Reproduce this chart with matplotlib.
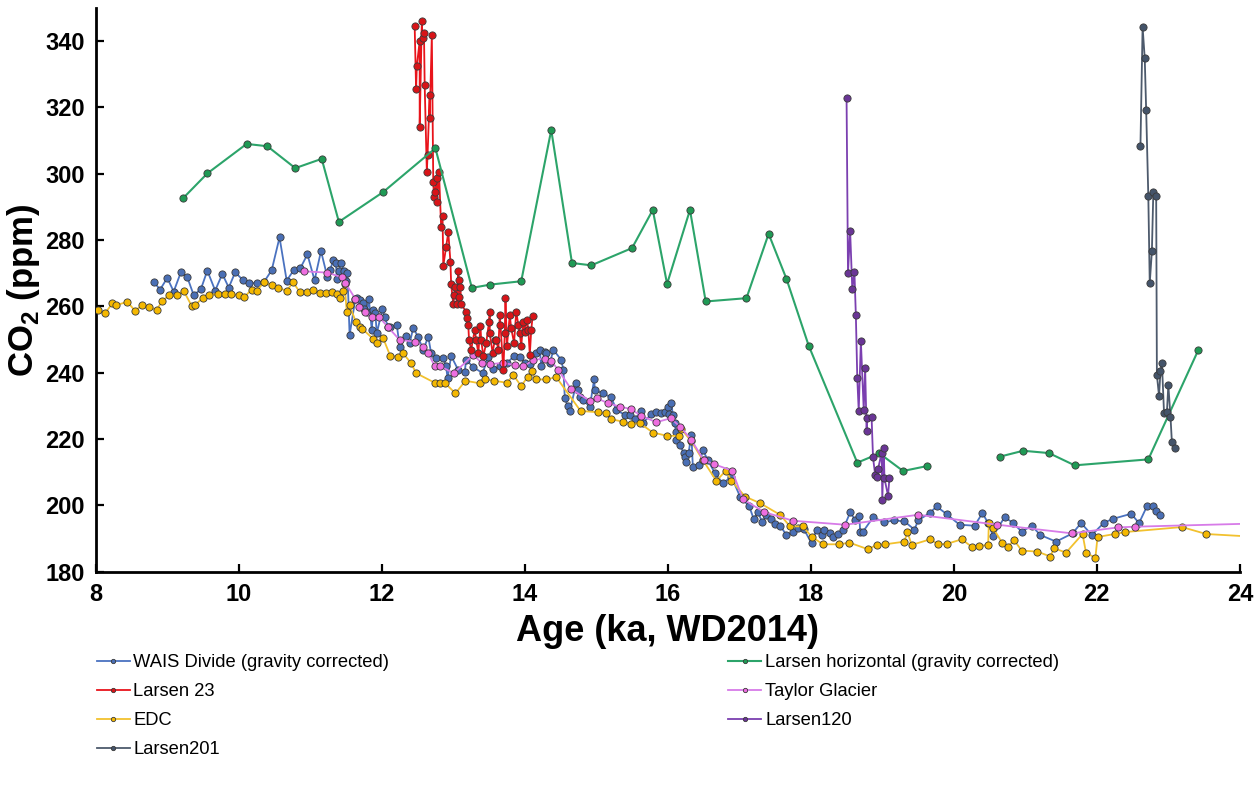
import numpy as np
import matplotlib
matplotlib.use("Agg")
import matplotlib.pyplot as plt

plt.rcParams['font.family'] = ['Liberation Sans', 'DejaVu Sans']
plt.rcParams['mathtext.fontset'] = 'custom'
plt.rcParams['mathtext.rm'] = 'Liberation Sans'
plt.rcParams['mathtext.bf'] = 'Liberation Sans:bold'

# WAIS Divide (gravity corrected)
wais_age = [8.81, 8.90, 9.00, 9.09, 9.19, 9.28, 9.37, 9.47, 9.56, 9.67, 9.77, 9.86, 9.95,
            10.06, 10.15, 10.26, 10.35, 10.46, 10.57, 10.67, 10.77, 10.86, 10.96, 11.06, 11.15,
            11.24, 11.28, 11.32, 11.36, 11.37, 11.40, 11.43, 11.47, 11.50, 11.52, 11.55, 11.63,
            11.65, 11.70, 11.74, 11.75, 11.79, 11.82, 11.86, 11.88, 11.91, 11.93, 12.01, 12.04,
            12.09, 12.11, 12.21, 12.25, 12.34, 12.39, 12.44, 12.51, 12.58, 12.65, 12.69, 12.76,
            12.86, 12.90, 12.92, 12.97, 13.07, 13.16, 13.18, 13.28, 13.41, 13.49, 13.55, 13.65,
            13.75, 13.85, 13.93, 14.00, 14.07, 14.15, 14.21, 14.23, 14.28, 14.30, 14.35, 14.40,
            14.51, 14.54, 14.56, 14.60, 14.63, 14.72, 14.74, 14.77, 14.81, 14.91, 14.97, 14.98,
            15.09, 15.21, 15.28, 15.40, 15.47, 15.54, 15.63, 15.65, 15.77, 15.84, 15.90, 15.96,
            16.00, 16.02, 16.05, 16.07, 16.10, 16.11, 16.12, 16.17, 16.22, 16.24, 16.26, 16.29,
            16.33, 16.35, 16.44, 16.49, 16.56, 16.66, 16.77, 16.89, 17.01, 17.14, 17.20, 17.26,
            17.32, 17.38, 17.45, 17.50, 17.57, 17.66, 17.75, 17.82, 17.90, 18.01, 18.08, 18.15,
            18.19, 18.27, 18.31, 18.38, 18.45, 18.55, 18.62, 18.68, 18.69, 18.73, 18.87, 19.03,
            19.17, 19.31, 19.45, 19.50, 19.66, 19.76, 19.90, 20.08, 20.29, 20.40, 20.48, 20.55,
            20.71, 20.83, 20.95, 21.09, 21.21, 21.43, 21.66, 21.78, 21.93, 22.10, 22.23, 22.48,
            22.59, 22.70, 22.78, 22.83, 22.89]
wais_co2 = [267.4, 265.1, 268.6, 264.5, 270.3, 268.8, 263.4, 265.2, 270.8, 264.8, 269.8, 265.7, 270.3,
            267.9, 267.0, 267.1, 267.3, 270.9, 280.8, 267.8, 271.0, 271.5, 275.7, 267.9, 276.7,
            268.8, 271.0, 274.0, 273.0, 268.2, 270.8, 273.2, 270.8, 267.7, 270.0, 251.4, 262.2,
            262.4, 261.9, 260.9, 259.1, 258.4, 262.1, 252.9, 258.9, 257.9, 251.9, 259.3, 256.7,
            253.9, 253.9, 254.4, 247.9, 251.1, 248.9, 253.6, 250.7, 246.9, 250.9, 245.9, 244.4,
            244.4, 241.9, 238.3, 245.1, 240.8, 240.3, 243.9, 241.7, 239.9, 244.8, 241.0, 241.9,
            243.0, 245.0, 244.8, 243.0, 242.8, 246.0, 246.9, 241.9, 246.4, 245.9, 242.9, 246.9,
            243.9, 240.8, 232.3, 230.0, 228.6, 236.8, 234.8, 232.8, 231.8, 229.8, 238.0, 234.8,
            233.8, 232.6, 228.8, 227.3, 227.3, 226.0, 228.6, 224.8, 227.6, 228.3, 228.0, 228.3,
            229.8, 227.6, 231.0, 227.3, 224.8, 222.3, 219.8, 218.3, 215.9, 214.7, 213.2, 215.8,
            221.3, 211.7, 212.2, 216.7, 213.7, 209.7, 206.7, 208.7, 202.7, 199.7, 196.0, 198.0,
            195.0, 197.0, 196.0, 194.5, 193.9, 191.1, 192.1, 193.2, 193.0, 188.6, 192.7, 191.1,
            192.7, 191.7, 190.6, 191.4, 192.7, 197.9, 195.7, 196.7, 192.1, 192.1, 196.4, 195.0,
            195.5, 195.2, 192.7, 195.5, 197.7, 199.7, 197.4, 194.2, 193.9, 197.7, 194.7, 190.8,
            196.5, 194.7, 192.1, 193.9, 191.1, 189.1, 191.6, 194.7, 191.1, 194.8, 196.0, 197.5,
            194.7, 199.7, 199.7, 198.4, 197.2]

# Larsen horizontal (gravity corrected); NaN marks the gap in the record
horiz_age = [9.22, 9.56, 10.11, 10.40, 10.79, 11.16, 11.40, 12.02, 12.75, 13.26, 13.52, 13.95,
             14.37, 14.66, 14.93, 15.50, 15.79, 15.99, 16.31, 16.53, 17.10, 17.41, 17.66, 17.97,
             18.65, 18.96, 19.29, 19.63, 20.1, 20.64, 20.97, 21.33, 21.69, 22.72, 23.42]
horiz_co2 = [292.6, 300.1, 309.0, 308.3, 301.7, 304.5, 285.5, 294.5, 307.7, 265.6, 266.6, 267.6,
             313.2, 273.1, 272.4, 277.6, 289.1, 266.8, 289.1, 261.5, 262.5, 281.9, 268.3, 248.2,
             212.9, 215.7, 210.4, 211.9, np.nan, 214.7, 216.5, 215.8, 212.1, 213.9, 246.9]

# Larsen 23
l23_age = [12.46, 12.48, 12.49, 12.53, 12.53, 12.56, 12.57, 12.59, 12.60, 12.63, 12.64, 12.67,
           12.67, 12.70, 12.72, 12.73, 12.74, 12.77, 12.77, 12.80, 12.83, 12.85, 12.86, 12.90,
           12.93, 12.96, 12.97, 13.00, 13.01, 13.03, 13.05, 13.07, 13.08, 13.08, 13.10, 13.11,
           13.18, 13.19, 13.21, 13.22, 13.25, 13.30, 13.32, 13.35, 13.38, 13.39, 13.42, 13.46,
           13.50, 13.51, 13.51, 13.55, 13.58, 13.60, 13.63, 13.65, 13.66, 13.70, 13.72, 13.73,
           13.75, 13.79, 13.81, 13.85, 13.88, 13.91, 13.93, 13.95, 13.98, 14.00, 14.03, 14.05,
           14.07, 14.09, 14.11]
l23_co2 = [344.5, 325.5, 332.5, 340.0, 314.2, 346.1, 340.8, 342.5, 326.7, 300.6, 305.6, 323.7,
           316.7, 341.7, 297.6, 293.1, 294.6, 298.6, 291.5, 300.6, 284.0, 287.2, 272.2, 278.0,
           282.4, 273.5, 266.8, 260.7, 263.4, 265.8, 260.7, 270.8, 268.0, 262.9, 265.8, 260.7,
           258.4, 256.4, 254.4, 249.9, 247.0, 252.9, 249.9, 246.0, 254.1, 249.9, 245.0, 248.9,
           255.4, 258.4, 251.9, 246.0, 249.9, 250.0, 246.9, 257.4, 254.4, 240.8, 251.9, 262.7,
           248.0, 257.4, 253.4, 249.0, 258.4, 254.4, 251.9, 248.0, 255.4, 252.4, 256.0, 252.9,
           245.4, 252.9, 257.1]

# Taylor Glacier
taylor_age = [10.91, 11.24, 11.44, 11.49, 11.63, 11.68, 11.77, 11.86, 11.96, 12.09, 12.25, 12.46,
              12.58, 12.65, 12.74, 12.81, 13.01, 13.28, 13.40, 13.52, 13.70, 13.86, 13.98, 14.12,
              14.28, 14.37, 14.47, 14.65, 14.91, 15.01, 15.17, 15.33, 15.48, 15.63, 15.84, 16.04,
              16.17, 16.33, 16.50, 16.64, 16.90, 17.05, 17.35, 17.75, 18.48, 19.50, 20.61, 21.65,
              22.30, 22.53, 24.8]
taylor_co2 = [270.6, 270.2, 268.8, 267.1, 262.3, 259.8, 258.4, 256.7, 256.9, 253.7, 249.9, 249.4,
              247.9, 245.9, 242.0, 242.0, 239.9, 245.4, 242.9, 242.6, 243.0, 242.3, 241.9, 243.9,
              244.3, 243.6, 240.8, 235.0, 231.6, 232.3, 230.8, 229.8, 229.1, 227.0, 225.1, 226.3,
              223.8, 219.8, 213.7, 212.5, 210.5, 201.9, 198.0, 195.4, 194.2, 197.2, 194.2, 191.6,
              193.4, 193.6, 194.9]

# EDC
edc_age = [7.9, 8.03, 8.13, 8.23, 8.29, 8.44, 8.55, 8.65, 8.75, 8.85, 8.93, 9.03, 9.14, 9.23,
           9.34, 9.39, 9.50, 9.58, 9.71, 9.81, 9.89, 10.00, 10.08, 10.18, 10.25, 10.35, 10.46,
           10.55, 10.67, 10.76, 10.85, 10.95, 11.04, 11.13, 11.22, 11.30, 11.37, 11.42, 11.46,
           11.48, 11.51, 11.55, 11.64, 11.69, 11.73, 11.88, 11.93, 12.02, 12.12, 12.23, 12.29,
           12.41, 12.48, 12.74, 12.81, 12.88, 13.03, 13.17, 13.38, 13.45, 13.57, 13.75, 13.84,
           13.95, 14.04, 14.10, 14.15, 14.30, 14.44, 14.78, 15.03, 15.14, 15.20, 15.37, 15.49,
           15.61, 15.79, 15.99, 16.16, 16.19, 16.33, 16.49, 16.68, 16.81, 16.89, 17.08, 17.29,
           17.57, 17.71, 17.89, 18.01, 18.17, 18.40, 18.54, 18.80, 18.92, 19.04, 19.31, 19.35,
           19.41, 19.67, 19.78, 19.90, 20.11, 20.26, 20.35, 20.48, 20.49, 20.55, 20.68, 20.76,
           20.84, 20.95, 21.17, 21.35, 21.40, 21.57, 21.80, 21.85, 21.98, 22.01, 22.25, 22.40,
           23.19, 23.53, 24.5]
edc_co2 = [259.5, 258.9, 257.9, 260.9, 260.4, 261.4, 258.7, 260.4, 259.9, 258.9, 261.7, 263.4,
           263.4, 264.7, 260.2, 260.4, 262.7, 263.4, 263.9, 263.9, 263.7, 263.4, 262.9, 265.1,
           264.6, 267.3, 266.4, 265.6, 264.7, 267.3, 264.4, 264.4, 264.9, 264.2, 264.1, 264.4,
           263.9, 262.7, 264.7, 266.7, 258.4, 260.3, 255.2, 253.7, 253.2, 250.2, 249.1, 250.4,
           245.0, 244.9, 246.1, 242.9, 239.9, 237.0, 237.0, 237.0, 233.8, 237.6, 236.8, 238.0,
           237.6, 237.0, 239.3, 236.0, 238.8, 240.4, 238.0, 238.0, 238.7, 228.5, 228.1, 227.8,
           226.0, 225.3, 224.6, 224.8, 222.0, 221.0, 221.0, 223.0, 219.3, 213.7, 207.4, 210.5,
           207.5, 202.7, 200.7, 197.2, 193.7, 193.7, 190.6, 188.3, 188.3, 188.8, 186.8, 188.1,
           188.3, 189.1, 192.1, 188.1, 189.8, 188.3, 188.4, 189.8, 187.4, 187.8, 188.1, 194.7,
           193.2, 188.6, 187.6, 189.6, 186.4, 186.1, 184.6, 187.1, 185.8, 191.4, 185.6, 184.3,
           190.5, 191.4, 192.0, 193.5, 191.4, 190.2]

# Larsen120
l120_age = [18.50, 18.52, 18.55, 18.58, 18.61, 18.63, 18.65, 18.67, 18.70, 18.74, 18.76, 18.78,
            18.79, 18.85, 18.87, 18.90, 18.92, 18.94, 18.99, 19.00, 19.02, 19.03, 19.08, 19.10]
l120_co2 = [322.7, 270.2, 282.8, 265.2, 270.3, 257.3, 238.3, 228.5, 249.6, 228.8, 241.4, 222.5,
            226.5, 226.6, 214.5, 209.2, 208.7, 211.0, 215.8, 201.7, 217.3, 208.2, 202.9, 208.4]

# Larsen201
l201_age = [22.61, 22.64, 22.67, 22.69, 22.72, 22.74, 22.77, 22.79, 22.83, 22.84, 22.87, 22.89,
            22.91, 22.94, 22.98, 23.00, 23.03, 23.05, 23.09]
l201_co2 = [308.4, 344.3, 334.8, 319.2, 293.3, 267.0, 276.7, 294.4, 293.3, 239.3, 233.0, 240.5,
            243.1, 227.8, 228.1, 236.3, 226.8, 219.0, 217.3]

fig = plt.figure(figsize=(12.6, 7.92), dpi=100)
ax = fig.add_axes([0.076, 0.278, 0.908, 0.712])

ms = 5.2
edge = '#3a3a3a'
wais, = ax.plot(wais_age, wais_co2, '-o', color='#4a72c0', mfc='#4a6fb5', mec=edge,
                mew=0.6, ms=ms, lw=1.3, zorder=2)
edc, = ax.plot(edc_age, edc_co2, '-o', color='#f2c12e', mfc='#f5b800', mec=edge,
               mew=0.6, ms=ms, lw=1.3, zorder=3)
taylor, = ax.plot(taylor_age, taylor_co2, '-o', color='#d77be8', mfc='#ee6ee0', mec=edge,
                  mew=0.6, ms=ms, lw=1.3, zorder=4)
l23, = ax.plot(l23_age, l23_co2, '-o', color='#e8141b', mfc='#d81418', mec=edge,
               mew=0.6, ms=ms, lw=1.3, zorder=5)
horiz, = ax.plot(horiz_age, horiz_co2, '-o', color='#2ca46a', mfc='#1f9a55', mec=edge,
                 mew=0.6, ms=ms, lw=1.5, zorder=6)
l120, = ax.plot(l120_age, l120_co2, '-o', color='#7b3fb0', mfc='#6a3596', mec=edge,
                mew=0.6, ms=ms, lw=1.3, zorder=7)
l201, = ax.plot(l201_age, l201_co2, '-o', color='#4d5a6c', mfc='#44546a', mec=edge,
                mew=0.6, ms=ms, lw=1.3, zorder=8)

ax.set_xlim(8, 24)
ax.set_ylim(180, 350)
ax.set_xticks(np.arange(8, 25, 2))
ax.set_yticks(np.arange(180, 341, 20))
ax.spines['top'].set_visible(False)
ax.spines['right'].set_visible(False)
for s in ['left', 'bottom']:
    ax.spines[s].set_linewidth(2)
ax.tick_params(direction='in', length=6, width=1.6, labelsize=17, pad=8)
for lab in ax.get_xticklabels() + ax.get_yticklabels():
    lab.set_fontweight('bold')

ax.set_xlabel('Age (ka, WD2014)', fontsize=26, fontweight='bold', labelpad=6)
ax.set_ylabel(r'CO$_\mathbf{2}$ (ppm)', fontsize=25, fontweight='bold', labelpad=2)

handles = [wais, l23, edc, l201, horiz, taylor, l120]
labels = ['WAIS Divide (gravity corrected)', 'Larsen 23', 'EDC', 'Larsen201',
          'Larsen horizontal (gravity corrected)', 'Taylor Glacier', 'Larsen120']
fig.legend(handles, labels, ncol=2, loc='upper left', bbox_to_anchor=(0.0635, 0.195),
           frameon=False, fontsize=13.2, markerscale=0.6, handlelength=1.8,
           handletextpad=0.2, columnspacing=18.5, labelspacing=0.66)

fig.savefig('out.png', dpi=100)
